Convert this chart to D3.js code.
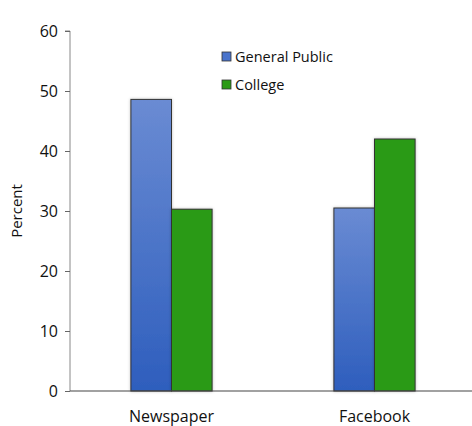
<!DOCTYPE html>
<html><head><meta charset="utf-8">
<script src="https://cdn.jsdelivr.net/npm/d3@7"></script>
<style>body{margin:0;background:#fff}svg{display:block}text{font-family:"Open Sans",sans-serif;fill:#111}</style>
</head><body>
<script>
const categories = ["Newspaper", "Facebook"];
const seriesNames = ["General Public", "College"];
const generalPublic = [48.6, 30.5];
const college = [30.3, 42.0];
const yTicks = [0, 10, 20, 30, 40, 50, 60];

const W = 472, H = 426;
const svg = d3.select("body").append("svg").attr("width", W).attr("height", H);
const defs = svg.append("defs");
const grad = defs.append("linearGradient").attr("id","blueGrad").attr("x1",0).attr("y1",0).attr("x2",0).attr("y2",1);
grad.append("stop").attr("offset","0%").attr("stop-color","#6a8bd3");
grad.append("stop").attr("offset","100%").attr("stop-color","#2e5ebd");
const flt = defs.append("filter").attr("id","shadow").attr("x","-20%").attr("y","-5%").attr("width","140%").attr("height","110%");
flt.append("feDropShadow").attr("dx",0).attr("dy",0).attr("stdDeviation",1.5).attr("flood-color","#000").attr("flood-opacity",0.25);

const mLeft = 70, mRight = 472, mTop = 31, mBottom = 391;
const y = d3.scaleLinear().domain([0, 60]).range([mBottom, mTop]);
const x0 = d3.scaleBand().domain(categories).range([mLeft, 476]).paddingInner(0.6).paddingOuter(0.3);
const x1 = d3.scaleBand().domain(seriesNames).range([0, x0.bandwidth()]);
const fills = {"General Public": "url(#blueGrad)", "College": "#2b9a15"};
const legendFills = {"General Public": "#4a74cc", "College": "#2b9a15"};

const data = categories.map((c, i) => ({cat: c, vals: [
  {s: "General Public", v: generalPublic[i]},
  {s: "College", v: college[i]}]}));

const g = svg.append("g");
g.selectAll("g.grp").data(data).join("g").attr("class","grp")
  .attr("transform", d => `translate(${x0(d.cat)},0)`)
  .selectAll("rect").data(d => d.vals).join("rect")
  .attr("x", d => x1(d.s)).attr("width", x1.bandwidth())
  .attr("y", d => y(d.v)).attr("height", d => y(0) - y(d.v))
  .attr("fill", d => fills[d.s]).attr("stroke", "#333").attr("stroke-width", 1)
  .attr("filter", "url(#shadow)");

// y axis
const yAxis = d3.axisLeft(y).tickValues(yTicks).tickSize(5).tickPadding(7);
const ya = svg.append("g").attr("transform", `translate(${mLeft},0)`).call(yAxis);
ya.select(".domain").attr("stroke", "#888").attr("d", `M-5,${mTop}H0V${mBottom}`);
ya.selectAll(".tick line").attr("stroke", "#666");
ya.selectAll(".tick text").attr("font-size", 16).attr("fill", "#111").style("font-family", "'Open Sans',sans-serif");

// x axis
const xAxis = d3.axisBottom(x0).tickSize(0).tickPadding(20);
const xa = svg.append("g").attr("transform", `translate(0,${mBottom})`).call(xAxis);
xa.select(".domain").attr("stroke", "#444").attr("stroke-width", 1.2).attr("d", `M${mLeft},0H${mRight}`);
xa.selectAll(".tick text").attr("font-size", 16).attr("fill", "#111").style("font-family", "'Open Sans',sans-serif");

// y label
svg.append("text").attr("transform", `translate(22,${(mTop+mBottom)/2}) rotate(-90)`)
  .attr("text-anchor","middle").attr("font-size", 15).text("Percent");

// legend
const lg = svg.append("g").attr("transform", "translate(222,50)");
seriesNames.forEach((s, i) => {
  const row = lg.append("g").attr("transform", `translate(0,${i*28})`);
  row.append("rect").attr("x",0).attr("y",2).attr("width",9).attr("height",9)
    .attr("fill", legendFills[s]).attr("stroke","#333").attr("stroke-width",0.8);
  row.append("text").attr("x",13).attr("y",12).attr("font-size",14.5).text(s);
});
</script>
</body></html>
